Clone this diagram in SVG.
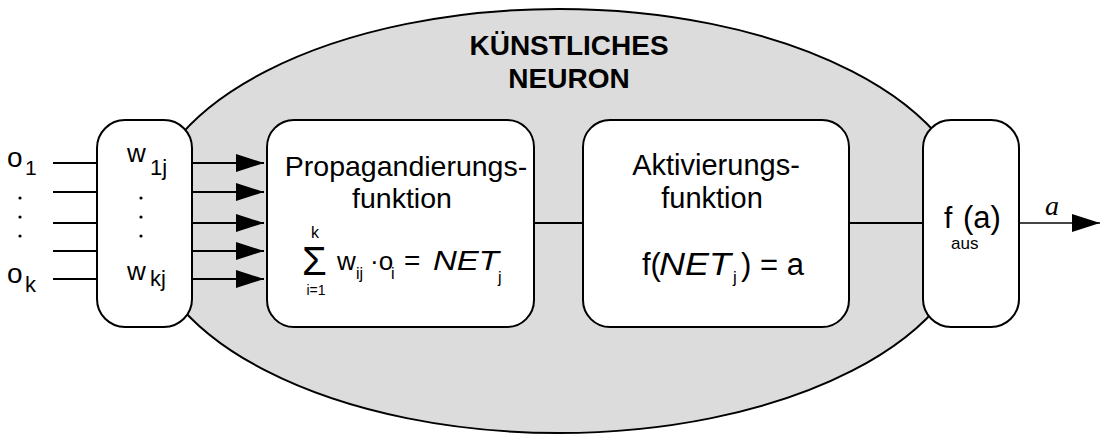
<svg xmlns="http://www.w3.org/2000/svg" width="1100" height="434" viewBox="0 0 1100 434">
<style>
.box{fill:#fff;stroke:#000;stroke-width:2}
.ln{fill:none;stroke:#000;stroke-width:2}
.t{font-family:"Liberation Sans",Arial,sans-serif;fill:#000}
.ti{font-family:"Liberation Sans",Arial,sans-serif;font-style:italic;fill:#000}
.title{font-family:"Liberation Sans",Arial,sans-serif;font-weight:bold;font-size:28px;fill:#000;text-anchor:middle}
</style>
<defs>
<marker id="ah" markerUnits="userSpaceOnUse" markerWidth="28" markerHeight="18" refX="28" refY="9" orient="auto">
<path d="M0,0 L28,9 L0,18 z" fill="#000"/>
</marker>
</defs>
<rect width="1100" height="434" fill="#fff"/>
<g id="neuron">
<ellipse cx="559" cy="221" rx="414" ry="212" fill="#dcdcdc" stroke="#000" stroke-width="2"/>
<text class="title" x="569" y="55">KÜNSTLICHES</text>
<text class="title" x="569" y="88">NEURON</text>
</g>
<g id="connectors">
<line class="ln" x1="53" y1="163" x2="97" y2="163"/>
<line class="ln" x1="53" y1="192" x2="97" y2="192"/>
<line class="ln" x1="53" y1="223" x2="97" y2="223"/>
<line class="ln" x1="53" y1="251" x2="97" y2="251"/>
<line class="ln" x1="53" y1="279" x2="97" y2="279"/>
<line class="ln" x1="192" y1="163" x2="264" y2="163" marker-end="url(#ah)"/>
<line class="ln" x1="192" y1="192" x2="264" y2="192" marker-end="url(#ah)"/>
<line class="ln" x1="192" y1="223" x2="264" y2="223" marker-end="url(#ah)"/>
<line class="ln" x1="192" y1="251" x2="264" y2="251" marker-end="url(#ah)"/>
<line class="ln" x1="192" y1="279" x2="264" y2="279" marker-end="url(#ah)"/>
<line class="ln" x1="534" y1="223" x2="583" y2="223"/>
<line class="ln" x1="849" y1="223" x2="923" y2="223"/>
<line x1="1019" y1="223" x2="1100" y2="223" stroke="#444" stroke-width="2" marker-end="url(#ah)"/>
<text x="1045" y="215" font-family="'Liberation Serif','Times New Roman',serif" font-style="italic" font-size="28">a</text>
</g>
<g id="inputs">
<text class="t" x="7" y="167" font-size="28">o</text>
<text class="t" x="25" y="175" font-size="21">1</text>
<circle cx="20" cy="198" r="1.6"/>
<circle cx="20" cy="217" r="1.6"/>
<circle cx="20" cy="236" r="1.6"/>
<text class="t" x="7" y="283" font-size="28">o</text>
<text class="t" x="25" y="292" font-size="22">k</text>
</g>
<g id="weights">
<rect class="box" x="97" y="120" width="95" height="207" rx="28" ry="28"/>
<text class="t" x="127" y="162" font-size="26">w</text>
<text class="t" x="150" y="175" font-size="22">1j</text>
<circle cx="141" cy="198" r="1.6"/>
<circle cx="141" cy="217" r="1.6"/>
<circle cx="141" cy="236" r="1.6"/>
<text class="t" x="127" y="280" font-size="26">w</text>
<text class="t" x="150" y="286" font-size="22">kj</text>
</g>
<g id="propagation">
<rect class="box" x="267" y="120" width="267" height="207" rx="27" ry="27"/>
<text class="t" x="406" y="176" font-size="28.5" text-anchor="middle">Propagandierungs-</text>
<text class="t" x="402" y="208" font-size="28.5" text-anchor="middle">funktion</text>
<text class="t" x="315" y="238" font-size="16" text-anchor="middle">k</text>
<text class="t" x="302" y="275" font-size="40">Σ</text>
<text class="t" x="316" y="295" font-size="14" text-anchor="middle">i=1</text>
<text class="t" x="337" y="270" font-size="26">w</text>
<text class="t" x="356" y="279" font-size="16">ij</text>
<text class="t" x="370" y="270" font-size="26">·o</text>
<text class="t" x="391" y="279" font-size="16">i</text>
<text class="t" x="404" y="270" font-size="28">=</text>
<text class="ti" x="433" y="270" font-size="28" textLength="66" lengthAdjust="spacingAndGlyphs">NET</text>
<text class="t" x="498" y="283" font-size="16">j</text>
</g>
<g id="activation">
<rect class="box" x="583" y="120" width="266" height="207" rx="27" ry="27"/>
<text class="t" x="716" y="175" font-size="29" text-anchor="middle">Aktivierungs-</text>
<text class="t" x="712" y="208" font-size="29" text-anchor="middle">funktion</text>
<text class="t" x="642" y="275" font-size="31">f(</text>
<text class="ti" x="659" y="275" font-size="32" textLength="72" lengthAdjust="spacingAndGlyphs">NET</text>
<text class="t" x="733" y="283" font-size="17">j</text>
<text class="t" x="741" y="275" font-size="31">) = a</text>
</g>
<g id="output">
<rect class="box" x="923" y="120" width="96" height="207" rx="28" ry="28"/>
<text class="t" x="944" y="228" font-size="30">f</text>
<text class="t" x="951" y="249" font-size="17">aus</text>
<text class="t" x="963" y="228" font-size="31">(a)</text>
</g>
</svg>
